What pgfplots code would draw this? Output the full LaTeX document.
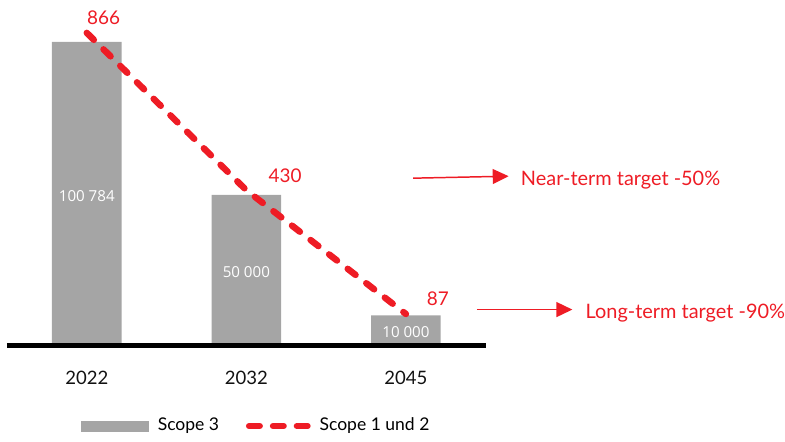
\documentclass[border=0pt]{standalone}
\usepackage{fontspec}
\setmainfont{Lato}
\newfontfamily\barfont{Open Sans}
\usepackage{pgfplots}
\pgfplotsset{compat=1.18}
\usetikzlibrary{arrows.meta}
\definecolor{barcol}{HTML}{A5A5A5}
\definecolor{tred}{HTML}{EE1C25}
\begin{document}
\begin{tikzpicture}[px/.style={x=0.5pt,y=-0.5pt,shift={(-3.5pt,173.5pt)}}]
\begin{scope}[px]
\path[use as bounding box] (0,0) rectangle (785,438);
\end{scope}
\begin{axis}[
  at={(0pt,0pt)}, anchor=south west,
  scale only axis, width=240.5pt, height=157pt,
  xmin=-0.5, xmax=2.5, ymin=0, ymax=103758,
  axis x line=bottom, axis y line=none,
  axis line style={line width=2.8pt, -},
  axis on top,
  xtick={0,1,2}, xticklabels={2022,2032,2045},
  major tick length=0pt,
  xticklabel style={anchor=center, yshift=-16.5pt, font=\fontsize{9.3}{11}\selectfont, text=black!93},
  clip=false,
]
\addplot[ybar, bar width=0.436, fill=barcol, draw=none] coordinates {(0,100784) (1,50000) (2,10000)};
\addplot[only marks, mark=none, nodes near coords, point meta=explicit symbolic,
  every node near coord/.style={anchor=center, text=white, font=\barfont\fontsize{7.6}{9}\selectfont, yshift=-1pt}]
  table[row sep=\\, col sep=comma, meta=label] {
  x,y,label\\ 0,50392,100 784\\ 1,25000,50 000\\ 2,5000,10 000\\
  };
\end{axis}
\begin{axis}[
  at={(0pt,0pt)}, anchor=south west,
  scale only axis, width=240.5pt, height=157pt,
  xmin=-0.5, xmax=2.5, ymin=0, ymax=866,
  hide axis, clip=false,
  legend columns=2,
  legend style={at={(0.523,-0.258)}, anchor=center, draw=none, fill=none,
    font=\fontsize{8.8}{10}\selectfont,
    /tikz/every odd column/.append style={column sep=2.5pt},
    /tikz/every even column/.append style={column sep=11.5pt}},
]
\addlegendimage{legend image code/.code={\fill[barcol] (0pt,-2.5pt) rectangle (33.5pt,2.5pt);}}
\addlegendentry{Scope 3}
\addplot[tred, line width=3.25pt, line cap=round, dash pattern=on 5pt off 6.8pt,
  legend image code/.code={\draw[tred, line width=3pt, line cap=round, dash pattern=on 5.5pt off 6.5pt] (1.5pt,0pt) -- (31pt,0pt);},
  nodes near coords, point meta=explicit symbolic,
  visualization depends on={value \thisrow{dx} \as \dx},
  every node near coord/.style={anchor=center, text=tred, font=\fontsize{9.5}{11}\selectfont, xshift=\dx pt, yshift=7.5pt}]
  table[row sep=\\, meta=label] {x y dx label\\ 0 866 8.5 866\\ 1 430 19.5 430\\ 2 87 16 87\\};
\addlegendentry{Scope 1 und 2}
\end{axis}
\begin{scope}[px]
\draw[tred, line width=0.75pt, -{Triangle[length=8pt,width=7.5pt]}] (415,179) -- (511,177);
\node[anchor=base west, inner sep=0pt, text=tred, font=\fontsize{10}{12}\selectfont] at (523,186) {Near-term target -50\%};
\draw[tred, line width=0.75pt, -{Triangle[length=8pt,width=7.5pt]}] (479,311) -- (575,311);
\node[anchor=base west, inner sep=0pt, text=tred, font=\fontsize{10}{12}\selectfont] at (588,320) {Long-term target -90\%};
\end{scope}
\end{tikzpicture}
\end{document}
